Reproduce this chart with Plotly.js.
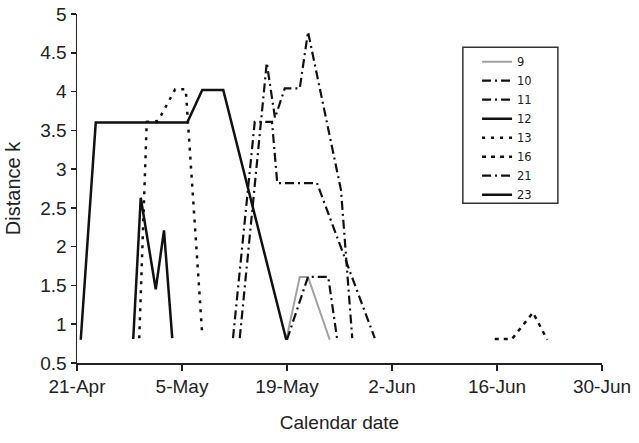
<!DOCTYPE html>
<html>
<head>
<meta charset="utf-8">
<script src="https://cdn.plot.ly/plotly-3.0.1.min.js"></script>
<style>html,body{margin:0;padding:0;background:#fff;}#chart{width:639px;height:443px;}</style>
</head>
<body>
<div id="chart"></div>
<script>
// x values are days after 21-Apr
const tickVals = [0, 14, 28, 42, 56, 70];
const tickText = ['21-Apr', '5-May', '19-May', '2-Jun', '16-Jun', '30-Jun'];
const seriesNames = ['9', '10', '11', '12', '13', '16', '21', '23'];

const s9x = [27.9, 29.7, 30.8, 33.7];
const s9y = [0.8, 1.61, 1.61, 0.8];
const s10x = [28.0, 30.8, 33.5, 34.7];
const s10y = [0.8, 1.61, 1.61, 0.8];
const s11x = [20.8, 23.7, 26.0, 26.7, 32.0, 39.7];
const s11y = [0.82, 3.61, 3.61, 2.82, 2.82, 0.82];
const s12x = [7.5, 8.5, 10.5, 11.6, 12.7];
const s12y = [0.81, 2.63, 1.45, 2.21, 0.82];
const s13x = [8.3, 9.3, 10.8, 13.1, 14.5, 16.7];
const s13y = [0.82, 3.61, 3.62, 4.03, 4.03, 0.86];
const s16x = [55.7, 58.0, 60.8, 62.7];
const s16y = [0.81, 0.81, 1.15, 0.8];
const s21x = [21.7, 25.3, 26.4, 27.7, 29.7, 30.8, 35.2, 36.7];
const s21y = [0.82, 4.37, 3.66, 4.04, 4.04, 4.77, 2.73, 0.82];
const s23x = [0.5, 2.5, 14.7, 16.7, 19.5, 27.9];
const s23y = [0.8, 3.6, 3.6, 4.02, 4.02, 0.8];

const xs = [s9x, s10x, s11x, s12x, s13x, s16x, s21x, s23x];
const ys = [s9y, s10y, s11y, s12y, s13y, s16y, s21y, s23y];
const styles = [
  {color: '#a0a0a0', width: 2, dash: 'solid'},
  {color: '#111', width: 2.2, dash: '9px,4px,2px,4px'},
  {color: '#111', width: 2.2, dash: '9px,4px,2px,4px'},
  {color: '#111', width: 2.5, dash: 'solid'},
  {color: '#111', width: 2.5, dash: '3px,6px'},
  {color: '#111', width: 2.5, dash: '4px,5px'},
  {color: '#111', width: 2.2, dash: '9px,4px,2px,4px'},
  {color: '#111', width: 2.5, dash: 'solid'}
];

const traces = seriesNames.map((n, i) => ({
  type: 'scatter', mode: 'lines', name: n,
  x: xs[i], y: ys[i], line: styles[i]
}));

const fam = 'Liberation Sans, Arial, sans-serif';

const layout = {
  width: 639, height: 443,
  margin: {l: 77, r: 37, t: 14, b: 80, pad: 0},
  paper_bgcolor: '#fff', plot_bgcolor: '#fff',
  font: {family: fam, color: '#222'},
  showlegend: true,
  legend: {
    x: 0.762, y: 0.905, xanchor: 'left', yanchor: 'top',
    bgcolor: 'rgba(0,0,0,0)', borderwidth: 0,
    font: {family: 'DejaVu Sans, sans-serif', size: 11.5, color: '#222'},
    tracegroupgap: 0
  },
  shapes: [{
    type: 'rect', xref: 'paper', yref: 'paper',
    x0: 0.735, x1: 0.916, y0: 0.458, y1: 0.905,
    line: {color: '#333', width: 1.5}, fillcolor: 'rgba(0,0,0,0)'
  }],
  xaxis: {
    range: [0, 70], tickvals: tickVals, ticktext: tickText,
    showgrid: false, zeroline: false,
    showline: true, linecolor: '#222', linewidth: 1.5,
    ticks: 'outside', ticklen: 6, tickwidth: 1.5, tickcolor: '#222',
    tickfont: {family: fam, size: 19, color: '#222'},
    title: {text: 'Calendar date', font: {family: fam, size: 19, color: '#222'}, standoff: 19}
  },
  yaxis: {
    range: [0.5, 5], dtick: 0.5, tick0: 0.5,
    showgrid: false, zeroline: false,
    showline: true, linecolor: '#222', linewidth: 1.5,
    ticks: 'outside', ticklen: 5, tickwidth: 1.5, tickcolor: '#222',
    tickfont: {family: fam, size: 19, color: '#222'},
    title: {text: 'Distance k', font: {family: fam, size: 20, color: '#222'}, standoff: 14}
  }
};

Plotly.newPlot('chart', traces, layout, {displayModeBar: false, staticPlot: true});
</script>
</body>
</html>
